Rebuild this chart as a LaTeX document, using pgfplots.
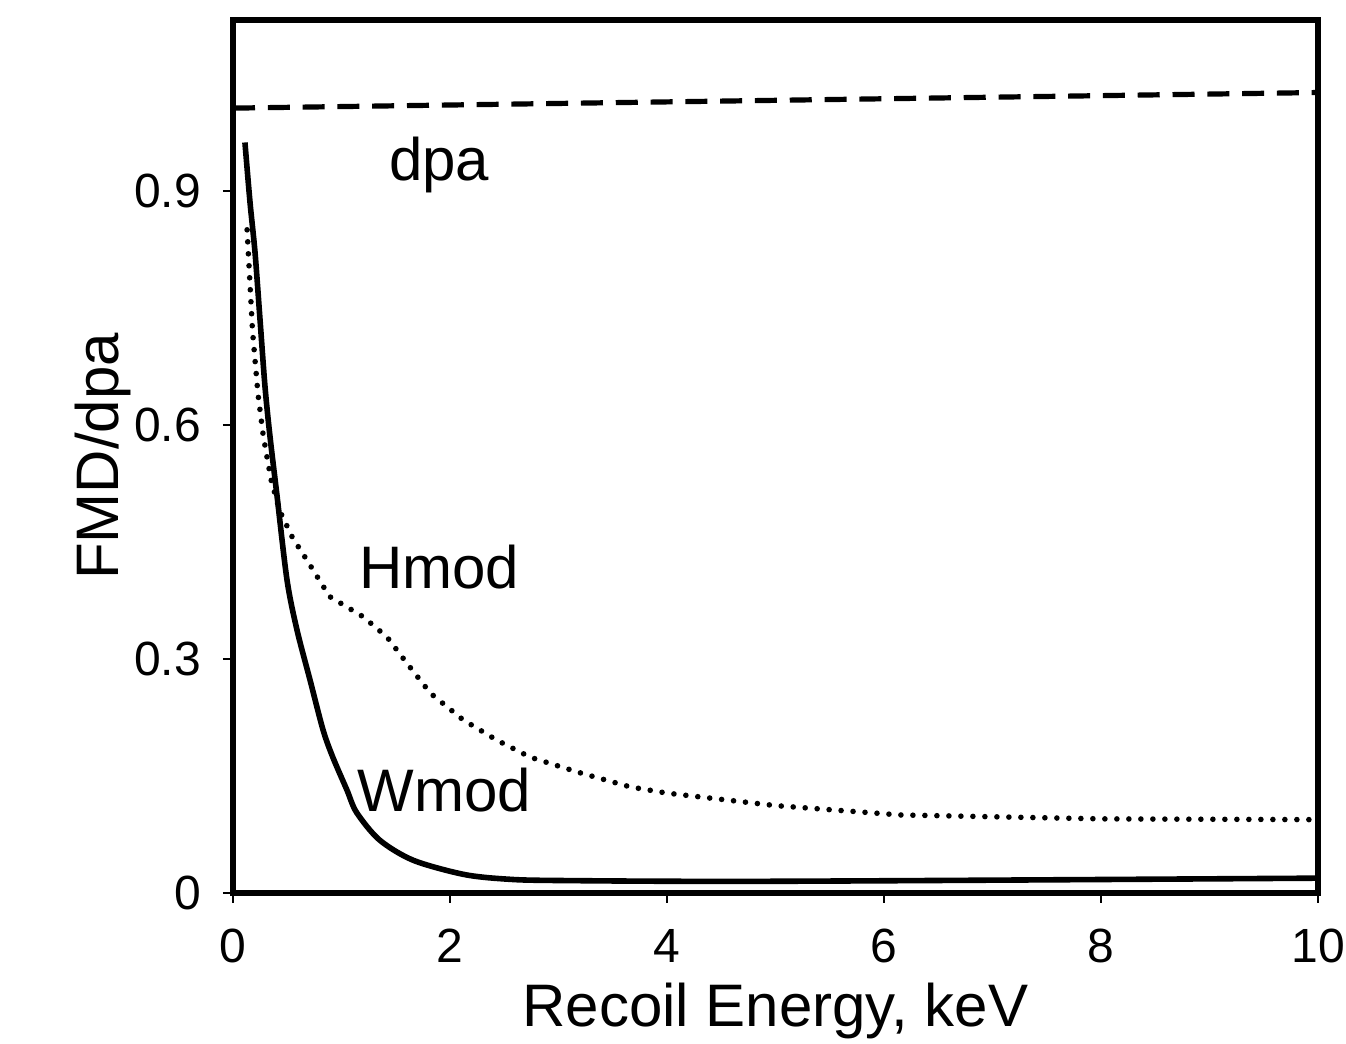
\documentclass[border=0pt]{standalone}
\usepackage{pgfplots}
\pgfplotsset{compat=1.18}
\usepackage{fontspec}
\setmainfont{Liberation Sans}
\begin{document}
\begin{tikzpicture}
\begin{axis}[
  scale only axis,
  width=271.25pt, height=218.25pt,
  xmin=0, xmax=10, ymin=0, ymax=1.119,
  xtick={0,2,4,6,8,10},
  ytick={0,0.3,0.6,0.9},
  yticklabels={0,0.3,0.6,0.9},
  xtick pos=left, ytick pos=left,
  tick align=outside,
  major tick length=2.5pt,
  tick style={line width=0.6pt, black},
  axis line style={line width=1.5pt},
  /pgf/number format/assume math mode=true,
  ticklabel style={font=\fontsize{12}{14}\selectfont},
  xticklabel style={yshift=-3pt},
  yticklabel style={xshift=-2pt},
  xlabel={Recoil Energy, keV},
  ylabel={FMD/dpa},
  label style={font=\fontsize{15}{18}\selectfont},
  xlabel style={yshift=2pt},
  ylabel style={yshift=-6pt},
  clip=false,
]
\addplot[line width=1.3pt, dash pattern=on 5.5pt off 3.2pt] coordinates {(0,1.006) (10,1.026)};
\addplot[line width=1.4pt, line cap=round, dash pattern=on 0pt off 3pt] coordinates {
(0.13,0.85) (0.18,0.72) (0.23,0.64) (0.28,0.585) (0.35,0.53) (0.43,0.49) (0.55,0.455)
(0.68,0.427) (0.89,0.38) (1.2,0.354) (1.42,0.328) (1.6,0.295) (1.82,0.256) (2.12,0.222)
(2.43,0.196) (2.74,0.174) (3.2,0.154) (3.66,0.136) (4.0,0.128) (5,0.112)
(6.15,0.1) (8,0.095) (10,0.094)};
\addplot[line width=1.4pt, smooth] coordinates {
(0.11,0.962) (0.157,0.885) (0.203,0.821) (0.249,0.735) (0.295,0.649) (0.341,0.585)
(0.405,0.51) (0.498,0.401) (0.59,0.337) (0.71,0.273) (0.83,0.209) (0.92,0.174)
(1.05,0.132) (1.14,0.103) (1.35,0.068) (1.66,0.042) (2.12,0.024) (2.5,0.018)
(3,0.016) (5,0.015) (10,0.019)};
\node[font=\fontsize{15}{18}\selectfont] at (axis cs:1.9,0.933) {dpa};
\node[font=\fontsize{15}{18}\selectfont] at (axis cs:1.9,0.418) {Hmod};
\node[font=\fontsize{15}{18}\selectfont] at (axis cs:1.95,0.132) {Wmod};
\end{axis}
\pgfresetboundingbox
\path ([shift={(-58.25pt,-37.75pt)}]current axis.south west) rectangle ([shift={(7pt,5pt)}]current axis.north east);
\end{tikzpicture}
\end{document}
